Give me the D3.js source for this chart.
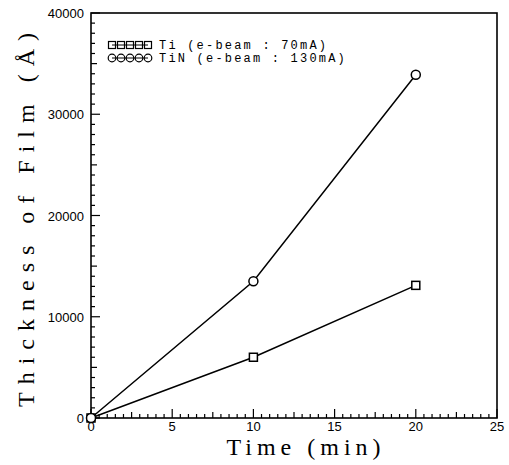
<!DOCTYPE html>
<html>
<head>
<meta charset="utf-8">
<script src="https://cdn.jsdelivr.net/npm/d3@7"></script>
<style>
  body { margin: 0; background: #fff; }
  svg { display: block; }
</style>
</head>
<body>
<script>
// data
const time = [0, 10, 20]
const ti = [0, 6000, 13100]
const tin = [0, 13500, 33900]
const xTicks = [0, 5, 10, 15, 20, 25]
const yTicks = [0, 10000, 20000, 30000, 40000]

const W = 509, H = 465
const margin = { top: 13, right: 12, bottom: 47, left: 91 }

const svg = d3.select('body').append('svg')
  .attr('width', W)
  .attr('height', H)

const x = d3.scaleLinear().domain([0, 25]).range([margin.left, W - margin.right])
const y = d3.scaleLinear().domain([0, 40000]).range([H - margin.bottom, margin.top])

const g = svg.append('g')

// frame
g.append('rect')
  .attr('x', x(0)).attr('y', y(40000))
  .attr('width', x(25) - x(0)).attr('height', y(0) - y(40000))
  .attr('fill', 'none').attr('stroke', '#000').attr('stroke-width', 1.6)

// minor ticks, pointing inward
const xMinor = d3.range(0, 25.01, 0.5)
g.selectAll('.xm').data(xMinor).join('line')
  .attr('x1', d => x(d)).attr('x2', d => x(d))
  .attr('y1', y(0))
  .attr('y2', d => y(0) - (d % 5 === 0 ? 9 : (d % 2.5 === 0 ? 6 : 4)))
  .attr('stroke', '#000').attr('stroke-width', 1.2)

const yMinor = d3.range(0, 40001, 1000)
g.selectAll('.ym').data(yMinor).join('line')
  .attr('y1', d => y(d)).attr('y2', d => y(d))
  .attr('x1', x(0))
  .attr('x2', d => x(0) + (d % 10000 === 0 ? 9 : (d % 5000 === 0 ? 6 : 4)))
  .attr('stroke', '#000').attr('stroke-width', 1.2)

// tick labels
g.selectAll('.xl').data(xTicks).join('text')
  .attr('x', d => x(d)).attr('y', y(0) + 13)
  .attr('text-anchor', 'middle')
  .attr('font-family', 'Liberation Sans, Arial, sans-serif')
  .attr('font-size', 13)
  .text(d => d)

g.selectAll('.yl').data(yTicks).join('text')
  .attr('x', x(0) - 7).attr('y', d => y(d) + 5)
  .attr('text-anchor', 'end')
  .attr('font-family', 'Liberation Sans, Arial, sans-serif')
  .attr('font-size', 13)
  .text(d => d)

// axis titles
svg.append('text')
  .attr('x', 306).attr('y', 455)
  .attr('text-anchor', 'middle')
  .attr('font-family', 'Liberation Serif, Times New Roman, serif')
  .attr('font-size', 24)
  .attr('letter-spacing', 5)
  .text('Time (min)')

svg.append('text')
  .attr('transform', 'translate(34, 216) rotate(-90)')
  .attr('text-anchor', 'middle')
  .attr('font-family', 'Liberation Serif, Times New Roman, serif')
  .attr('font-size', 24)
  .attr('letter-spacing', 8)
  .text('Thickness of Film (Å)')

// lines
const line = d3.line().x(d => x(d[0])).y(d => y(d[1]))
const tiPts = time.map((t, i) => [t, ti[i]])
const tinPts = time.map((t, i) => [t, tin[i]])

g.append('path').datum(tiPts).attr('d', line)
  .attr('fill', 'none').attr('stroke', '#000').attr('stroke-width', 1.5)
g.append('path').datum(tinPts).attr('d', line)
  .attr('fill', 'none').attr('stroke', '#000').attr('stroke-width', 1.5)

// markers
g.selectAll('.sq').data(tiPts).join('rect')
  .attr('x', d => x(d[0]) - 4).attr('y', d => y(d[1]) - 4)
  .attr('width', 8).attr('height', 8)
  .attr('fill', '#fff').attr('stroke', '#000').attr('stroke-width', 1.5)

g.selectAll('.ci').data(tinPts).join('circle')
  .attr('cx', d => x(d[0])).attr('cy', d => y(d[1]))
  .attr('r', 4.5)
  .attr('fill', '#fff').attr('stroke', '#000').attr('stroke-width', 1.5)

// legend
const legend = [
  { name: 'Ti (e-beam : 70mA)', shape: 'square' },
  { name: 'TiN (e-beam : 130mA)', shape: 'circle' }
]
legend.forEach((item, i) => {
  const ly = 45 + i * 13
  const lx = 112
  g.append('line').attr('x1', lx).attr('x2', lx + 36).attr('y1', ly).attr('y2', ly)
    .attr('stroke', '#000').attr('stroke-width', 1)
  d3.range(5).forEach(k => {
    const cx = lx + k * 9
    if (item.shape === 'square') {
      g.append('rect').attr('x', cx - 3.5).attr('y', ly - 3.5)
        .attr('width', 7).attr('height', 7)
        .attr('fill', 'none').attr('stroke', '#000').attr('stroke-width', 1.2)
    } else {
      g.append('circle').attr('cx', cx).attr('cy', ly).attr('r', 3.8)
        .attr('fill', 'none').attr('stroke', '#000').attr('stroke-width', 1.2)
    }
  })
  g.append('text')
    .attr('x', 159).attr('y', ly + 4)
    .attr('font-family', 'Liberation Mono, Courier New, monospace')
    .attr('font-size', 12)
    .attr('letter-spacing', 2.2)
    .text(item.name)
})
</script>
</body>
</html>
